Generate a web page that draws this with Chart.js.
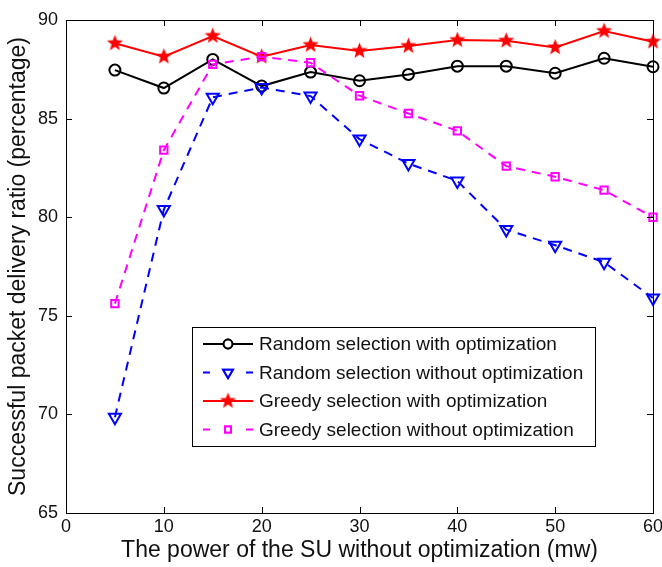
<!DOCTYPE html>
<html lang="en">
<head>
<meta charset="UTF-8">
<title>Successful packet delivery ratio</title>
<script src="https://cdn.jsdelivr.net/npm/chart.js@4.4.0/dist/chart.umd.min.js"></script>
<style>
    body { margin: 0; background: #fff; }
</style>
</head>
<body>
<canvas id="myChart" width="662" height="567"></canvas>
<script>
// data
const power = [5, 10, 15, 20, 25, 30, 35, 40, 45, 50, 55, 60];
const randomOpt = [87.46, 86.55, 88.0, 86.65, 87.36, 86.92, 87.24, 87.66, 87.66, 87.3, 88.06, 87.63];
const randomNoOpt = [69.86, 80.39, 86.08, 86.58, 86.14, 83.96, 82.72, 81.84, 79.37, 78.58, 77.72, 75.9];
const greedyOpt = [88.82, 88.14, 89.19, 88.14, 88.73, 88.43, 88.68, 88.98, 88.95, 88.61, 89.44, 88.9];
const greedyNoOpt = [75.62, 83.4, 87.75, 88.14, 87.83, 86.16, 85.26, 84.38, 82.59, 82.05, 81.37, 80.0];
const seriesNames = [
    'Random selection with optimization',
    'Random selection without optimization',
    'Greedy selection with optimization',
    'Greedy selection without optimization'
];
const xTicks = [0, 10, 20, 30, 40, 50, 60];
const yTicks = [65, 70, 75, 80, 85, 90];

const FONT = '"Liberation Sans", Arial, sans-serif';

// filled red star marker
function makeStar(rOut, rIn, color) {
    const c = document.createElement('canvas');
    const s = Math.ceil(rOut * 2 + 2);
    c.width = s; c.height = s;
    const g = c.getContext('2d');
    g.beginPath();
    for (let i = 0; i < 10; i++) {
        const r = i % 2 === 0 ? rOut : rIn;
        const a = -Math.PI / 2 + i * Math.PI / 5;
        const px = s / 2 + r * Math.cos(a), py = s / 2 + r * Math.sin(a);
        if (i === 0) g.moveTo(px, py); else g.lineTo(px, py);
    }
    g.closePath();
    g.fillStyle = color;
    g.fill();
    return c;
}
const starImg = makeStar(8.5, 3.6, '#ff0000');

function toPoints(arr) {
    return power.map((p, i) => ({x: p, y: arr[i]}));
}

const datasets = [
    {
        label: seriesNames[0], data: toPoints(randomOpt),
        borderColor: '#000000', backgroundColor: 'rgba(0,0,0,0)',
        pointStyle: 'circle', pointRadius: 5.5, pointBorderWidth: 2, borderWidth: 2, order: 4
    },
    {
        label: seriesNames[1], data: toPoints(randomNoOpt),
        borderColor: '#0000ff', backgroundColor: 'rgba(0,0,0,0)', borderDash: [9, 7],
        pointStyle: 'triangle', rotation: 180, pointRadius: 7, pointBorderWidth: 2, borderWidth: 2, order: 3
    },
    {
        label: seriesNames[2], data: toPoints(greedyOpt),
        borderColor: '#ff0000', backgroundColor: '#ff0000',
        pointStyle: starImg, borderWidth: 2, order: 2
    },
    {
        label: seriesNames[3], data: toPoints(greedyNoOpt),
        borderColor: '#ff00ff', backgroundColor: 'rgba(0,0,0,0)', borderDash: [9, 7],
        pointStyle: 'rect', pointRadius: 5.2, pointBorderWidth: 2, borderWidth: 2, order: 1
    }
];

// axis box and inward tick marks
const boxAxes = {
    id: 'boxAxes',
    afterDatasetsDraw(chart) {
        const ctx = chart.ctx, a = chart.chartArea;
        const xs = chart.scales.x, ys = chart.scales.y;
        ctx.save();
        ctx.strokeStyle = '#000';
        ctx.lineWidth = 1;
        ctx.strokeRect(a.left + 0.5, a.top + 0.5, a.right - a.left, a.bottom - a.top);
        ctx.beginPath();
        xTicks.forEach(v => {
            const px = Math.round(xs.getPixelForValue(v)) + 0.5;
            ctx.moveTo(px, a.bottom); ctx.lineTo(px, a.bottom - 6);
            ctx.moveTo(px, a.top); ctx.lineTo(px, a.top + 6);
        });
        yTicks.forEach(v => {
            const py = Math.round(ys.getPixelForValue(v)) + 0.5;
            ctx.moveTo(a.left, py); ctx.lineTo(a.left + 6, py);
            ctx.moveTo(a.right, py); ctx.lineTo(a.right - 6, py);
        });
        ctx.stroke();
        ctx.restore();
    }
};

// legend box inside the plot
const boxLegend = {
    id: 'boxLegend',
    afterDraw(chart) {
        const ctx = chart.ctx;
        const bx = 192, by = 327, bw = 403, bh = 119;
        ctx.save();
        ctx.fillStyle = '#fff';
        ctx.fillRect(bx, by, bw, bh);
        ctx.strokeStyle = '#000';
        ctx.lineWidth = 1;
        ctx.strokeRect(bx + 0.5, by + 0.5, bw, bh);
        chart.data.datasets.forEach((ds, i) => {
            const y = 344 + i * 28.5;
            const x1 = 203, x2 = 253, xm = 228;
            ctx.strokeStyle = ds.borderColor;
            ctx.lineWidth = 2;
            ctx.setLineDash(ds.borderDash ? [7, 36] : []);
            ctx.beginPath();
            ctx.moveTo(x1, y); ctx.lineTo(x2, y);
            ctx.stroke();
            ctx.setLineDash([]);
            if (ds.pointStyle instanceof HTMLCanvasElement) {
                ctx.drawImage(ds.pointStyle, xm - ds.pointStyle.width / 2, y - ds.pointStyle.height / 2);
            } else {
                Chart.helpers.drawPoint(ctx, {
                    pointStyle: ds.pointStyle, rotation: ds.rotation || 0,
                    radius: ds.pointRadius * 0.8, borderWidth: 2
                }, xm, y);
                ctx.fillStyle = '#fff';
                ctx.fill();
                ctx.stroke();
            }
            ctx.fillStyle = '#111';
            ctx.font = '19px ' + FONT;
            ctx.textBaseline = 'middle';
            ctx.fillText(ds.label, 259, y + 1);
        });
        ctx.restore();
    }
};

const ctx = document.getElementById('myChart').getContext('2d');
const chart = new Chart(ctx, {
    type: 'line',
    data: {datasets: datasets},
    options: {
        responsive: false,
        animation: false,
        clip: false,
        layout: {padding: {top: 20, right: 7, left: 0, bottom: 0}},
        plugins: {legend: {display: false}, tooltip: {enabled: false}},
        scales: {
            x: {
                type: 'linear', min: 0, max: 60,
                afterFit: s => { s.height = 54; s.paddingLeft = 0; s.paddingRight = 0; },
                afterBuildTicks: s => { s.ticks = xTicks.map(v => ({value: v})); },
                grid: {display: false, drawTicks: false},
                border: {display: false},
                ticks: {color: '#111', padding: 3, font: {size: 18, family: FONT}, maxRotation: 0},
                title: {
                    display: true, text: 'The power of the SU without optimization (mw)',
                    color: '#111', font: {size: 23, family: FONT}, padding: {bottom: 3}
                }
            },
            y: {
                min: 65, max: 90,
                afterFit: s => { s.width = 66; s.paddingTop = 0; s.paddingBottom = 0; },
                afterBuildTicks: s => { s.ticks = yTicks.map(v => ({value: v})); },
                grid: {display: false, drawTicks: false},
                border: {display: false},
                ticks: {color: '#111', padding: 8, font: {size: 18, family: FONT}},
                title: {
                    display: true, text: 'Successful packet delivery ratio (percentage)',
                    color: '#111', font: {size: 23, family: FONT}, padding: {top: 5}
                }
            }
        }
    },
    plugins: [boxAxes, boxLegend]
});
</script>
</body>
</html>
